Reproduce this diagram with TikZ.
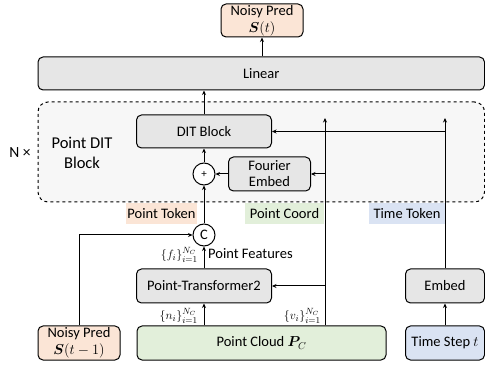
\documentclass[tikz,border=0pt]{standalone}
\usepackage{amsmath}
\usepackage{bm}
\usepackage{fontspec}
\setmainfont{Carlito}
\usetikzlibrary{arrows.meta}
\definecolor{boxgray}{HTML}{E6E6E6}
\definecolor{peach}{HTML}{FBE5D6}
\definecolor{lgreen}{HTML}{E2EFDA}
\definecolor{lblue}{HTML}{DAE3F3}
\definecolor{dashfill}{HTML}{F7F7F7}
\begin{document}
\begin{tikzpicture}[x=1pt,y=-1pt,
  font=\fontsize{14.5}{16}\selectfont,
  box/.style={draw, line width=1pt, rounded corners=5pt, inner sep=0pt, align=center},
  gbox/.style={box, fill=boxgray},
  circ/.style={draw, circle, line width=1pt, fill=white, minimum size=22pt, inner sep=0pt},
  tag/.style={inner sep=0pt, minimum height=21pt},
  arr/.style={-{Stealth[length=4.5pt,width=4pt]}, line width=1pt},
  lbl/.style={inner sep=0pt, font=\fontsize{12.5}{13}\selectfont}
]
\useasboundingbox (0,0) rectangle (485,366);
% dashed block
\node[draw, dashed, line width=1pt, rounded corners=10pt, fill=dashfill,
  minimum width=446.5pt, minimum height=100pt, inner sep=0pt] (dit) at (261.25,152) {};
\node[font=\fontsize{15.5}{17}\selectfont] (nx) at (20,153) {N ×};
\node[align=center, font=\fontsize{16.5}{20}\selectfont] (dittxt) at (82,153) {Point DIT\\Block};
% boxes
\node[box, fill=peach, minimum width=82pt, minimum height=33pt] (np) at (262,20.5) {Noisy Pred\\[1pt]$\bm{S}(t)$};
\node[gbox, minimum width=446.5pt, minimum height=33pt] (lin) at (261.25,73.5) {Linear};
\node[gbox, minimum width=135pt, minimum height=33pt] (ditb) at (204,131.5) {DIT Block};
\node[circ] (plus) at (204,174) {\fontsize{11}{12}\selectfont +};
\node[gbox, minimum width=82pt, minimum height=34pt] (four) at (269.5,174) {Fourier\\Embed};
\node[tag, fill=peach, minimum width=71pt] (ptok) at (161.5,213.5) {Point Token};
\node[tag, fill=lgreen, minimum width=79pt] (pcoord) at (284.5,213.5) {Point Coord};
\node[tag, fill=lblue, minimum width=76pt] (ttok) at (407,213.5) {Time Token};
\node[circ] (cc) at (204,235) {C};
\node[gbox, minimum width=135pt, minimum height=34pt] (pt) at (204,286) {Point-Transformer2};
\node[gbox, minimum width=79pt, minimum height=34pt] (emb) at (445,286) {Embed};
\node[box, fill=peach, minimum width=82pt, minimum height=34pt] (np2) at (79,343) {Noisy Pred\\[1pt]$\bm{S}(t-1)$};
\node[box, fill=lgreen, minimum width=249pt, minimum height=34pt] (pc) at (261.5,343) {Point Cloud $\bm{P}_C$};
\node[box, fill=lblue, minimum width=79pt, minimum height=34pt] (ts) at (445,343) {Time Step $t$};
% coordinates
\coordinate (ctop) at (325,118);
\coordinate (ttop) at (445,118);
% connectors
\draw[arr] (lin.north -| np) -- (np.south);
\draw[arr] (ditb.north) -- (lin.south -| ditb);
\draw[arr] (plus.north) -- (ditb.south);
\draw[arr] (four.west) -- (plus.east);
\draw[arr] (pc.north -| ctop) -- (ctop);
\draw[arr] (four.east -| ctop) -- (four.east);
\draw[arr] (pt.east -| ctop) -- (pt.east);
\draw[arr] (emb.north) -- (ttop);
\draw[arr] (ditb.east -| ttop) -- (ditb.east);
\draw[arr] (ts.north) -- (emb.south);
\draw[arr] (pc.north -| pt) -- (pt.south);
\draw[arr] (pt.north) -- (cc.south);
\draw[arr] (cc.north) -- (plus.south);
\draw[arr] (np2.north) |- (cc.west);
% labels
\node[lbl, anchor=east] (fl) at (198,255) {$\{f_i\}_{i=1}^{N_C}$};
\node[anchor=west, inner sep=0pt] (pf) at (208,254) {Point Features};
\node[lbl, anchor=east] (nl) at (198,316) {$\{n_i\}_{i=1}^{N_C}$};
\node[lbl, anchor=east] (vl) at (321,316) {$\{v_i\}_{i=1}^{N_C}$};
\end{tikzpicture}
\end{document}
